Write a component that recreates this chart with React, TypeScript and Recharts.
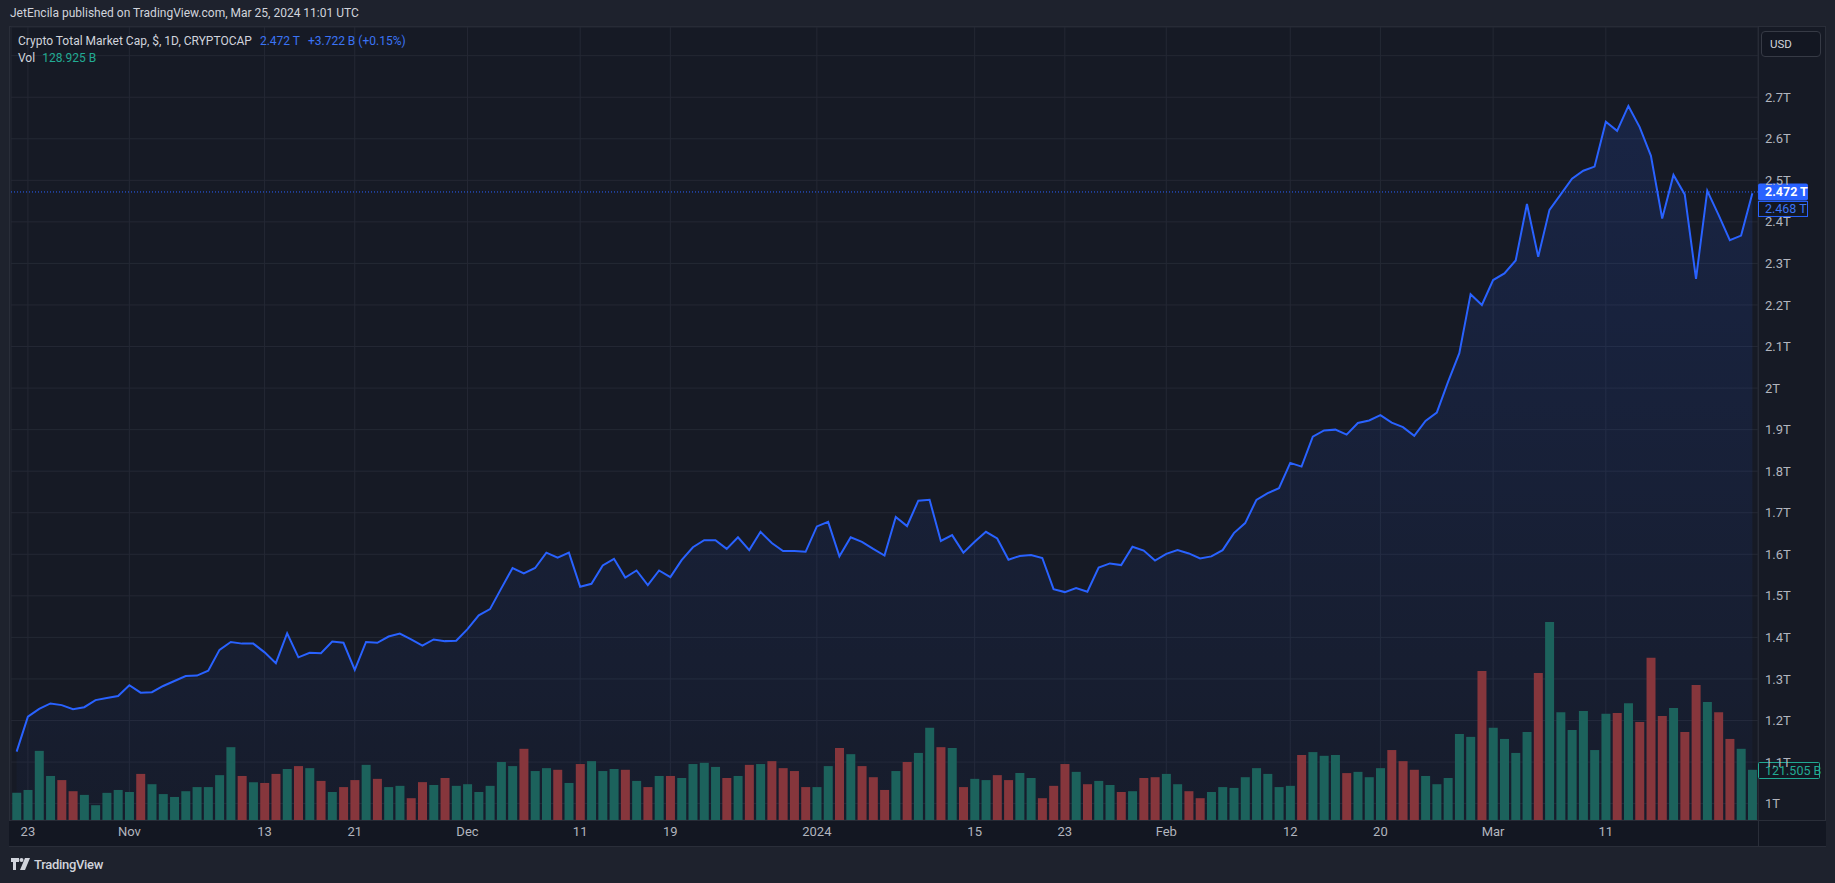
import React from 'react';
import {
  Area,
  Bar,
  CartesianGrid,
  Cell,
  ComposedChart,
  ReferenceLine,
  XAxis,
  YAxis,
} from 'recharts';

// daily closes, Oct 22 2023 -> Mar 24 2024, in trillions USD
const PRICE_T = [
  1.125, 1.209, 1.228, 1.241, 1.237, 1.227, 1.232, 1.249, 1.254, 1.259,
  1.285, 1.267, 1.268, 1.283, 1.295, 1.307, 1.308, 1.32, 1.37, 1.389,
  1.385, 1.385, 1.364, 1.338, 1.41, 1.352, 1.363, 1.362, 1.39, 1.387,
  1.322, 1.389, 1.387, 1.402, 1.409, 1.395, 1.38, 1.395, 1.391, 1.392,
  1.42, 1.453, 1.468, 1.518, 1.567, 1.554, 1.567, 1.604, 1.592, 1.604,
  1.522, 1.529, 1.573, 1.589, 1.544, 1.561, 1.526, 1.561, 1.545, 1.586,
  1.617, 1.634, 1.634, 1.613, 1.641, 1.61, 1.654, 1.627, 1.608, 1.608,
  1.606, 1.667, 1.678, 1.595, 1.641, 1.63, 1.613, 1.597, 1.69, 1.668,
  1.729, 1.731, 1.632, 1.646, 1.604, 1.63, 1.654, 1.638, 1.587, 1.596,
  1.598, 1.591, 1.516, 1.509, 1.519, 1.51, 1.568, 1.578, 1.574, 1.618,
  1.609, 1.585, 1.601, 1.61, 1.602, 1.59, 1.595, 1.61, 1.651, 1.675,
  1.731, 1.747, 1.759, 1.82, 1.811, 1.883, 1.898, 1.9, 1.888, 1.916,
  1.922, 1.935, 1.917, 1.906, 1.885, 1.921, 1.941, 2.015, 2.084, 2.226,
  2.2, 2.26, 2.276, 2.307, 2.443, 2.316, 2.429, 2.466, 2.504, 2.523,
  2.533, 2.641, 2.619, 2.679, 2.628, 2.559, 2.408, 2.513, 2.466, 2.263,
  2.475, 2.417, 2.356, 2.367, 2.469,
];

// daily volume, billions USD
const VOLUME_B = [
  66, 73, 168, 107, 97, 70, 61, 36, 66, 73,
  68, 112, 87, 63, 56, 70, 80, 80, 109, 177,
  107, 92, 90, 112, 124, 131, 126, 95, 68, 80,
  97, 134, 100, 80, 83, 53, 92, 85, 102, 83,
  87, 68, 83, 141, 131, 173, 119, 126, 122, 90,
  136, 143, 119, 124, 122, 95, 80, 107, 107, 102,
  136, 139, 129, 102, 107, 134, 136, 143, 126, 119,
  80, 80, 131, 175, 160, 131, 104, 73, 119, 141,
  163, 224, 177, 175, 80, 100, 97, 109, 97, 114,
  102, 53, 83, 136, 117, 87, 95, 85, 68, 70,
  102, 104, 112, 87, 70, 53, 68, 80, 78, 104,
  126, 112, 80, 83, 158, 165, 156, 158, 114, 117,
  104, 126, 170, 143, 122, 107, 87, 102, 209, 202,
  362, 224, 197, 163, 214, 357, 481, 262, 219, 265,
  170, 258, 260, 284, 238, 394, 253, 272, 214, 328,
  287, 262, 197, 173, 122,
];

// u = up day (teal), d = down day (red)
const VOLUME_DIR = (
  'uuuudduuuu' + 'uduuuuuuuu' + 'duddududud' + 'duduuddudu' + 'uuuuuduudu' +
  'duuudududu' + 'uuudududdd' + 'duududddud' + 'uududuuddu' + 'uddduduudu' +
  'dduudduuuu' + 'uuuuduuudu' + 'uuddduuuuu' + 'duuuuduuuu' + 'uududddudd' +
  'udduu'
).split('');

const TIME_TICKS = [
  '2023-10-23', '2023-11-01', '2023-11-13', '2023-11-21', '2023-12-01',
  '2023-12-11', '2023-12-19', '2024-01-01', '2024-01-15', '2024-01-23',
  '2024-02-01', '2024-02-12', '2024-02-20', '2024-03-01', '2024-03-11',
];
const TIME_LABELS = ['23', 'Nov', '13', '21', 'Dec', '11', '19', '2024', '15', '23', 'Feb', '12', '20', 'Mar', '11'];

const PRICE_TICKS = [1, 1.1, 1.2, 1.3, 1.4, 1.5, 1.6, 1.7, 1.8, 1.9, 2, 2.1, 2.2, 2.3, 2.4, 2.5, 2.6, 2.7, 2.8];

const LAST_PRICE = 2.472;
const PREV_PRICE = '2.468 T';
const LAST_VOLUME = 121.505;

const START_DAY = Date.UTC(2023, 9, 22);
const DAY_MS = 86400000;

const data = PRICE_T.map((price, i) => ({
  date: new Date(START_DAY + i * DAY_MS).toISOString().slice(0, 10),
  price,
  volume: VOLUME_B[i],
  up: VOLUME_DIR[i] === 'u',
}));

const FONT = "Roboto, 'Noto Sans', 'DejaVu Sans', sans-serif";
const BLUE = '#2962ff';
const TEAL = '#22ab94';
const UP_BAR = '#1c625c';
const DOWN_BAR = '#86363c';
const AXIS_TEXT = '#b2b5be';
const BORDER = '#2a2e39';

const W = 1835;
const H = 883;
const PLOT_LEFT = 11;
const PLOT_TOP = 27;
const PLOT_RIGHT = 1758;
const PLOT_BOTTOM = 820;
const FRAME = { left: 9, top: 26, right: 1826, bottom: 847 };

const timeLabel = (value: string) => {
  const i = TIME_TICKS.indexOf(value);
  return i >= 0 ? TIME_LABELS[i] : '';
};

const priceLabel = (value: number) => (value > 2.75 ? '' : `${Number(value.toFixed(1))}T`);

const PriceTag = (props: any) => {
  const vb = props.viewBox;
  if (!vb) return null;
  const x = vb.x + vb.width;
  const y = vb.y;
  return (
    <g>
      <rect x={x} y={y - 8.5} width={50} height={17} rx={2} fill={BLUE} />
      <text x={x + 7} y={y} dy="0.36em" fill="#ffffff" fontSize={12.5} fontWeight={700} fontFamily={FONT}>
        {`${LAST_PRICE} T`}
      </text>
      <rect x={x + 0.5} y={y + 9.5} width={49} height={15} fill="#131722" stroke={BLUE} />
      <text x={x + 7} y={y + 17} dy="0.36em" fill="#3b74f5" fontSize={12.5} fontFamily={FONT}>
        {PREV_PRICE}
      </text>
    </g>
  );
};

const VolumeTag = (props: any) => {
  const vb = props.viewBox;
  if (!vb) return null;
  const x = vb.x + vb.width;
  const y = vb.y;
  return (
    <g>
      <rect x={x + 0.5} y={y - 7.5} width={61} height={16} rx={1} fill="#131722" stroke={TEAL} />
      <text x={x + 7} y={y + 0.5} dy="0.36em" fill={TEAL} fontSize={12.5} fontFamily={FONT}>
        {`${LAST_VOLUME} B`}
      </text>
    </g>
  );
};

const volumeMax = 1927;

export default function App() {
  return (
    <div
      style={{
        position: 'absolute',
        left: 0,
        top: 0,
        width: W,
        height: H,
        background: '#1e222d',
        fontFamily: FONT,
        overflow: 'hidden',
      }}
    >
      <div style={{ position: 'absolute', left: 10, top: 6, fontSize: 12, color: '#d1d4dc' }}>
        JetEncila published on TradingView.com, Mar 25, 2024 11:01 UTC
      </div>

      <div
        style={{
          position: 'absolute',
          left: FRAME.left,
          top: FRAME.top,
          width: FRAME.right - FRAME.left,
          height: FRAME.bottom - FRAME.top,
          background: '#161a25',
          border: `1px solid ${BORDER}`,
          boxSizing: 'border-box',
        }}
      />
      <div style={{ position: 'absolute', left: FRAME.left, top: PLOT_BOTTOM, width: FRAME.right - FRAME.left, height: FRAME.bottom - PLOT_BOTTOM, background: '#131722', borderTop: `1px solid ${BORDER}`, borderBottom: `1px solid ${BORDER}`, boxSizing: 'border-box' }} />
      <div style={{ position: 'absolute', left: PLOT_RIGHT, top: FRAME.top, width: 1, height: FRAME.bottom - FRAME.top, background: BORDER }} />

      <div style={{ position: 'absolute', left: 0, top: 0 }}>
        <ComposedChart
          width={W}
          height={H}
          data={data}
          barCategoryGap="11%"
          margin={{ top: PLOT_TOP, right: 10, bottom: H - PLOT_BOTTOM - 27, left: PLOT_LEFT }}
        >
          <defs>
            <linearGradient id="areaFill" x1="0" y1="0" x2="0" y2="1">
              <stop offset="0%" stopColor={BLUE} stopOpacity={0.24} />
              <stop offset="100%" stopColor={BLUE} stopOpacity={0.05} />
            </linearGradient>
          </defs>
          <CartesianGrid yAxisId="price" stroke="#242834" strokeWidth={1} />
          <XAxis
            dataKey="date"
            ticks={TIME_TICKS}
            interval={0}
            tickFormatter={timeLabel}
            height={27}
            tickLine={false}
            axisLine={false}
            tickSize={6}
            tickMargin={1}
            tick={{ fill: AXIS_TEXT, fontSize: 13, fontFamily: FONT }}
          />
          <YAxis
            yAxisId="price"
            orientation="right"
            type="number"
            domain={[0.9605, 2.869]}
            allowDataOverflow
            ticks={PRICE_TICKS}
            interval={0}
            tickFormatter={priceLabel}
            width={67}
            tickLine={false}
            axisLine={false}
            tickSize={6}
            tickMargin={1}
            tick={{ fill: AXIS_TEXT, fontSize: 13, fontFamily: FONT, textAnchor: 'start' }}
          />
          <YAxis yAxisId="vol" hide type="number" domain={[0, volumeMax]} allowDataOverflow />
          <Bar yAxisId="vol" dataKey="volume" isAnimationActive={false}>
            {data.map((d) => (
              <Cell key={d.date} fill={d.up ? UP_BAR : DOWN_BAR} />
            ))}
          </Bar>
          <Area
            yAxisId="price"
            type="linear"
            dataKey="price"
            stroke={BLUE}
            strokeWidth={2}
            fill="url(#areaFill)"
            dot={false}
            activeDot={false}
            isAnimationActive={false}
          />
          <ReferenceLine
            yAxisId="price"
            y={LAST_PRICE}
            stroke={BLUE}
            strokeWidth={1}
            strokeDasharray="1 2"
            label={<PriceTag />}
          />
          <ReferenceLine
            yAxisId="vol"
            y={LAST_VOLUME}
            stroke="none"
            label={<VolumeTag />}
          />
        </ComposedChart>
      </div>

      <div style={{ position: 'absolute', left: 18, top: 34, fontSize: 12, color: '#d1d4dc', whiteSpace: 'nowrap' }}>
        Crypto Total Market Cap, $, 1D, CRYPTOCAP
        <span style={{ color: '#3b74f5', marginLeft: 8 }}>2.472 T</span>
        <span style={{ color: '#3b74f5', marginLeft: 8 }}>+3.722 B (+0.15%)</span>
      </div>
      <div style={{ position: 'absolute', left: 18, top: 51, fontSize: 12, color: '#d1d4dc', whiteSpace: 'nowrap' }}>
        Vol
        <span style={{ color: TEAL, marginLeft: 7 }}>128.925 B</span>
      </div>

      <div
        style={{
          position: 'absolute',
          left: 1761,
          top: 31,
          width: 60,
          height: 26,
          border: '1px solid #363a45',
          borderRadius: 4,
          boxSizing: 'border-box',
          color: '#d1d4dc',
          fontSize: 11.5,
          lineHeight: '24px',
          paddingLeft: 8,
          background: '#131722',
        }}
      >
        USD
      </div>

      <div style={{ position: 'absolute', left: 11, top: 857, display: 'flex', alignItems: 'center', color: '#d1d4dc' }}>
        <svg width={20} height={13} viewBox="0 0 20 13">
          <path d="M0 0h8v4H5v8H2V4H0z" fill="#d1d4dc" />
          <circle cx={10.5} cy={2} r={2} fill="#d1d4dc" />
          <path d="M14 0h5l-5 12H9z" fill="#d1d4dc" />
        </svg>
        <span style={{ marginLeft: 3, fontSize: 13, fontWeight: 500, letterSpacing: -0.3 }}>TradingView</span>
      </div>
    </div>
  );
}
